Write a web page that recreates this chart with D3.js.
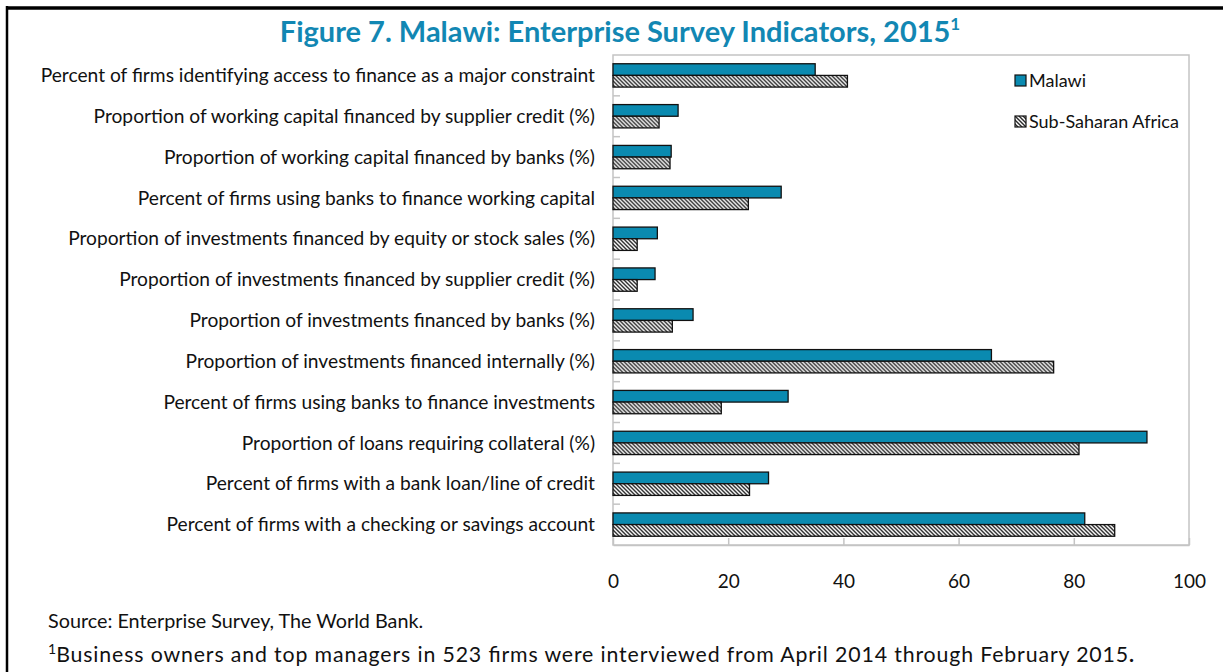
<!DOCTYPE html>
<html>
<head>
<meta charset="utf-8">
<script src="https://cdn.jsdelivr.net/npm/d3@7"></script>
<style>
  html, body { margin: 0; padding: 0; background: #fff; }
  svg { display: block; }
  text { font-family: Lato, "Open Sans", sans-serif; }
</style>
</head>
<body>
<svg id="chart" width="1223" height="672"></svg>
<script>
// Enterprise survey indicators (percent), top to bottom
const categories = [
  "Percent of firms identifying access to finance as a major constraint",
  "Proportion of working capital financed by supplier credit (%)",
  "Proportion of working capital financed by banks (%)",
  "Percent of firms using banks to finance working capital",
  "Proportion of investments financed by equity or stock sales (%)",
  "Proportion of investments financed by supplier credit (%)",
  "Proportion of investments financed by banks (%)",
  "Proportion of investments financed internally (%)",
  "Percent of firms using banks to finance investments",
  "Proportion of loans requiring collateral (%)",
  "Percent of firms with a bank loan/line of credit",
  "Percent of firms with a checking or savings account"
];
const malawi = [35.1, 11.3, 10.1, 29.2, 7.7, 7.3, 13.9, 65.7, 30.4, 92.7, 27.0, 81.9];
const ssa    = [40.7, 8.0, 9.9, 23.5, 4.2, 4.2, 10.3, 76.5, 18.8, 80.9, 23.7, 87.1];
const seriesNames = ["Malawi", "Sub-Saharan Africa"];
const xTicks = [0, 20, 40, 60, 80, 100];

const svg = d3.select("#chart");
const W = 1223, H = 672;
const plot = { left: 613, right: 1189, top: 55, bottom: 545 };
const teal = "#0a8ab0";

// hatch pattern for the regional series
const defs = svg.append("defs");
const pat = defs.append("pattern")
  .attr("id", "hatch")
  .attr("patternUnits", "userSpaceOnUse")
  .attr("width", 4).attr("height", 4);
pat.append("rect").attr("width", 4).attr("height", 4).attr("fill", "#fff");
pat.append("path")
  .attr("d", "M-1,-1 L5,5 M-1,3 L1,5 M3,-1 L5,1")
  .attr("stroke", "#2a2a2a").attr("stroke-width", 1.4);

// outer frame (left and top rules)
svg.append("line").attr("x1", 7).attr("x2", 7).attr("y1", 6).attr("y2", H)
  .attr("stroke", "#000").attr("stroke-width", 2.5);
svg.append("line").attr("x1", 6).attr("x2", W).attr("y1", 8).attr("y2", 8)
  .attr("stroke", "#000").attr("stroke-width", 3.5);

// title
const title = svg.append("text")
  .attr("x", 620).attr("y", 42)
  .attr("text-anchor", "middle")
  .attr("font-weight", "bold")
  .attr("font-size", 29)
  .attr("fill", "#1287b3");
title.append("tspan").text("Figure 7. Malawi: Enterprise Survey Indicators, 2015");
title.append("tspan").attr("dy", -12).attr("font-size", 17).text("1");

// scales
const x = d3.scaleLinear().domain([0, 100]).range([plot.left, plot.right]);
const y = d3.scaleBand().domain(categories).range([plot.top, plot.bottom])
  .paddingInner(0.4286).paddingOuter(0.2143);
const ySub = d3.scaleBand().domain(seriesNames).range([0, y.bandwidth()]);

// plot-area border
svg.append("rect")
  .attr("x", plot.left).attr("y", plot.top)
  .attr("width", plot.right - plot.left).attr("height", plot.bottom - plot.top)
  .attr("fill", "none").attr("stroke", "#c4c4c4").attr("stroke-width", 1.5);

// category tick marks between groups
const step = (plot.bottom - plot.top) / categories.length;
const catTicks = d3.range(1, categories.length).map(i => plot.top + i * step);
svg.append("g").selectAll("line").data(catTicks).join("line")
  .attr("x1", plot.left).attr("x2", plot.left + 7)
  .attr("y1", d => d).attr("y2", d => d)
  .attr("stroke", "#c4c4c4").attr("stroke-width", 1.5);

// value axis
const xAxis = d3.axisBottom(x).tickValues(xTicks).tickSizeInner(-7).tickSizeOuter(0).tickPadding(30);
const gx = svg.append("g").attr("transform", `translate(0,${plot.bottom})`).call(xAxis);
gx.select(".domain").attr("stroke", "#c4c4c4").attr("stroke-width", 1.5);
gx.selectAll(".tick line").attr("stroke", "#c4c4c4").attr("stroke-width", 1.5);
gx.selectAll(".tick text")
  .attr("font-family", "Lato, sans-serif")
  .attr("font-size", 19).attr("fill", "#111");

// category labels
svg.append("g").selectAll("text").data(categories).join("text")
  .attr("x", 595)
  .attr("y", d => y(d) + y.bandwidth() / 2)
  .attr("dy", "0.35em")
  .attr("text-anchor", "end")
  .attr("font-size", 19.2)
  .attr("fill", "#111")
  .text(d => d);

// bars
const rows = categories.map((c, i) => ({ c, vals: [malawi[i], ssa[i]] }));
const grp = svg.append("g").selectAll("g").data(rows).join("g")
  .attr("transform", d => `translate(0,${y(d.c)})`);
grp.selectAll("rect").data(d => d.vals.map((v, j) => ({ v, s: seriesNames[j] }))).join("rect")
  .attr("x", x(0))
  .attr("y", d => ySub(d.s))
  .attr("width", d => x(d.v) - x(0))
  .attr("height", ySub.bandwidth())
  .attr("fill", d => d.s === "Malawi" ? teal : "url(#hatch)")
  .attr("stroke", "#111").attr("stroke-width", 1.3);

// legend
const legend = svg.append("g").attr("transform", "translate(1015,75)");
seriesNames.forEach((s, i) => {
  const g = legend.append("g").attr("transform", `translate(0,${i * 41})`);
  g.append("rect").attr("width", 11).attr("height", 11)
    .attr("fill", i === 0 ? teal : "url(#hatch)")
    .attr("stroke", "#111").attr("stroke-width", 1.2);
  g.append("text").attr("x", 14).attr("y", 11.5)
    .attr("font-size", 18).attr("fill", "#111").text(s);
});

// source and footnote
svg.append("text").attr("x", 48).attr("y", 628)
  .attr("font-size", 19.8).attr("fill", "#111")
  .text("Source: Enterprise Survey, The World Bank.");
const note = svg.append("text").attr("x", 48).attr("y", 662)
  .attr("font-size", 21.3).attr("fill", "#111");
note.append("tspan").attr("font-size", 14).attr("dy", -8).text("1");
note.append("tspan").attr("dy", 8)
  .attr("textLength", 1072).attr("lengthAdjust", "spacing")
  .text("Business owners and top managers in 523 firms were interviewed from April 2014 through February 2015");
note.append("tspan").attr("font-weight", "bold").text(".");
</script>
</body>
</html>
